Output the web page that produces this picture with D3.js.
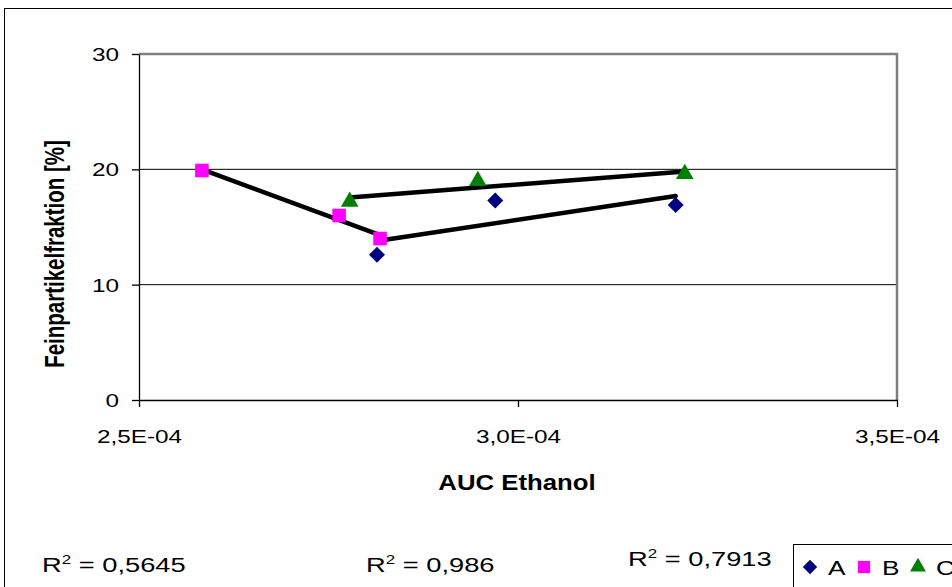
<!DOCTYPE html>
<html><head><meta charset="utf-8">
<script src="https://cdn.jsdelivr.net/npm/d3@7"></script>
<style>body{margin:0;background:#fff}svg{display:block;font-family:"Liberation Sans",Arial,sans-serif}</style>
</head><body>
<svg id="c" width="952" height="587"></svg>
<script>
const seriesNames = ["A", "B", "C"];
const aX = [2.814e-4, 2.970e-4, 3.208e-4];
const aY = [12.6, 17.3, 16.9];
const bX = [2.583e-4, 2.764e-4, 2.818e-4];
const bY = [19.9, 16.0, 14.0];
const cX = [2.778e-4, 2.947e-4, 3.220e-4];
const cY = [17.2, 19.0, 19.6];
const xTicks = [2.5e-4, 3.0e-4, 3.5e-4];
const xTickLabels = ["2,5E-04", "3,0E-04", "3,5E-04"];
const yTicks = [0, 10, 20, 30];
const r2Labels = ["R\u00b2 = 0,5645", "R\u00b2 = 0,986", "R\u00b2 = 0,7913"];
const xTitle = "AUC Ethanol";
const yTitle = "Feinpartikelfraktion [%]";

const colors = {A: "#000080", B: "#ff00ff", C: "#008000"};
const SX = 1.28;

// marker shapes: diamond = square rotated 45°
function marker(name, scale) {
  const k = scale || 1;
  if (name === "A") return {d: d3.symbol().type(d3.symbolSquare).size(128 * k * k)(), rot: 45};
  if (name === "B") return {d: d3.symbol().type(d3.symbolSquare).size(185 * k * k)(), rot: 0};
  return {d: d3.symbol().type(d3.symbolTriangle).size(135 * k * k)(), rot: 0};
}

const svg = d3.select("#c");
const L = 139, R = 897, T = 54, B = 400;
const x = d3.scaleLinear().domain([2.5e-4, 3.5e-4]).range([L, R]);
const y = d3.scaleLinear().domain([0, 30]).range([B, T]);

// outer frame
svg.append("rect").attr("x", 4.5).attr("y", 8.5).attr("width", 1000).attr("height", 1000)
  .attr("fill", "none").attr("stroke", "#000").attr("stroke-width", 1);

// gridlines
svg.append("g").selectAll("line").data(yTicks.filter(d => d > 0 && d < 30)).join("line")
  .attr("x1", L).attr("x2", R).attr("y1", d => y(d)).attr("y2", d => y(d))
  .attr("stroke", "#000").attr("stroke-width", 1);

// plot border top/right gray
svg.append("path").attr("d", `M${L},${T} H${R} V${B}`).attr("fill", "none")
  .attr("stroke", "#808080").attr("stroke-width", 2.5);

// axes
const xAxis = svg.append("g").attr("transform", `translate(0,${B})`)
  .call(d3.axisBottom(x).tickValues(xTicks).tickFormat((d, i) => xTickLabels[i]).tickSize(7).tickSizeOuter(0));
const yAxis = svg.append("g").attr("transform", `translate(${L},0)`)
  .call(d3.axisLeft(y).tickValues(yTicks).tickSize(7).tickSizeOuter(0));
[xAxis, yAxis].forEach(g => {
  g.select(".domain").attr("stroke", "#000").attr("stroke-width", 1.3);
  g.selectAll(".tick line").attr("stroke", "#000").attr("stroke-width", 1.3);
  g.selectAll("text").attr("font-size", 19).attr("fill", "#000").attr("font-family", "Liberation Sans, Arial, sans-serif");
});
xAxis.selectAll("text").attr("y", 0).attr("dy", 0)
  .attr("transform", `translate(0,43) scale(${SX},1)`);
yAxis.selectAll("text").attr("x", 0).attr("dy", "0.35em")
  .attr("transform", `translate(-20,0) scale(${SX},1)`);

// titles
svg.append("text").attr("transform", `translate(517,490) scale(1.12,1)`)
  .attr("text-anchor", "middle").attr("font-weight", "bold").attr("font-size", 23).text(xTitle);
svg.append("text").attr("transform", `translate(64,254) scale(1.35,1) rotate(-90)`)
  .attr("text-anchor", "middle").attr("font-weight", "bold").attr("font-size", 20.5).text(yTitle);

// series
const series = [
  {name: "A", xs: aX, ys: aY},
  {name: "B", xs: bX, ys: bY},
  {name: "C", xs: cX, ys: cY}
];

// trendlines (linear regression over each series' x range)
function fit(xs, ys) {
  const mx = d3.mean(xs), my = d3.mean(ys);
  let sxy = 0, sxx = 0;
  xs.forEach((v, i) => { sxy += (v - mx) * (ys[i] - my); sxx += (v - mx) * (v - mx); });
  const m = sxy / sxx;
  return v => my + m * (v - mx);
}
series.forEach(s => {
  const f = fit(s.xs, s.ys);
  const x0 = d3.min(s.xs), x1 = d3.max(s.xs);
  svg.append("line").attr("x1", x(x0)).attr("y1", y(f(x0))).attr("x2", x(x1)).attr("y2", y(f(x1)))
    .attr("stroke", "#000").attr("stroke-width", 4.5).attr("stroke-linecap", "round");
});

// markers
series.forEach(s => {
  const m = marker(s.name);
  svg.append("g").selectAll("path").data(s.xs.map((v, i) => [v, s.ys[i]])).join("path")
    .attr("d", m.d)
    .attr("transform", d => `translate(${x(d[0])},${y(d[1])}) rotate(${m.rot})`)
    .attr("fill", colors[s.name]);
});

// R² labels
const r2Pos = [[42, 572], [366, 572], [628, 566]];
r2Labels.forEach((t, i) => {
  const txt = svg.append("text").attr("transform", `translate(${r2Pos[i][0]},${r2Pos[i][1]}) scale(1.3,1)`)
    .attr("font-size", 21).attr("fill", "#000");
  const parts = t.split("\u00b2");
  txt.append("tspan").text(parts[0]);
  txt.append("tspan").attr("font-size", 13).attr("dy", -8).text("2");
  txt.append("tspan").attr("dy", 8).text(parts[1]);
});

// legend
svg.append("rect").attr("x", 793.5).attr("y", 544.5).attr("width", 300).attr("height", 100)
  .attr("fill", "#fff").attr("stroke", "#000").attr("stroke-width", 1);
const legX = [810, 864, 918];
seriesNames.forEach((n, i) => {
  const m = marker(n, 0.9);
  svg.append("path").attr("d", m.d)
    .attr("transform", `translate(${legX[i]},567) rotate(${m.rot})`)
    .attr("fill", colors[n]);
  svg.append("text").attr("transform", `translate(${legX[i] + 18},575) scale(1.28,1)`)
    .attr("font-size", 20.5).attr("fill", "#000").text(n);
});
</script>
</body></html>
